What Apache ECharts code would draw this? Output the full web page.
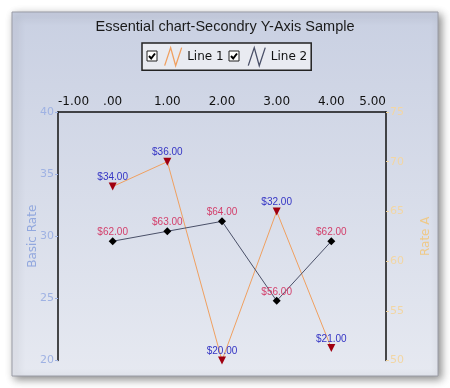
<!DOCTYPE html>
<html>
<head>
<meta charset="utf-8">
<script src="https://cdn.jsdelivr.net/npm/echarts@6/dist/echarts.min.js"></script>
<style>
html,body{margin:0;padding:0;background:#fff;}
#chart{width:450px;height:388px;}
</style>
</head>
<body>
<div id="chart"></div>
<script>
// ---- data ----
const titleText = 'Essential chart-Secondry Y-Axis Sample';
const xValues = [0, 1, 2, 3, 4];
const line1Values = [34, 36, 20, 32, 21];   // left axis "Basic Rate"
const line2Values = [62, 63, 64, 56, 62];   // right axis "Rate A"
const seriesNames = ['Line 1', 'Line 2'];
const xRange = [-1, 5];
const leftRange = [20, 40];
const rightRange = [50, 75];

const chart = echarts.init(document.getElementById('chart'), null, {renderer: 'canvas'});

function money(v) { return '$' + v.toFixed(2); }
function xFmt(v) { return v === 0 ? '.00' : v.toFixed(2); }

const zig = 'path://M0,18 L6,0 L11,18 L17,0';

function checkbox(x, y) {
  return [
    {type: 'rect', shape: {x: x, y: y, width: 10, height: 10},
     style: {fill: '#ffffff', stroke: '#222', lineWidth: 1}, z: 100},
    {type: 'polyline', shape: {points: [[x + 2, y + 5], [x + 4.2, y + 7.5], [x + 8, y + 2.5]]},
     style: {fill: null, stroke: '#000', lineWidth: 2}, z: 101}
  ];
}

const option = {
  backgroundColor: '#ffffff',
  animation: false,
  graphic: [
    {type: 'rect', shape: {x: 12, y: 12, width: 426, height: 364},
     style: {
       fill: new echarts.graphic.LinearGradient(0, 0, 0, 1, [
         {offset: 0, color: '#c9d0e2'},
         {offset: 1, color: '#e6e9f1'}
       ]),
       stroke: '#9a9ca6', lineWidth: 1,
       shadowBlur: 8, shadowColor: 'rgba(0,0,0,0.45)', shadowOffsetX: 3, shadowOffsetY: 3
     }, z: -10}
  ].concat(checkbox(147, 51), checkbox(229, 51)),
  title: {
    text: titleText, left: 'center', top: 19, padding: 0,
    textStyle: {fontFamily: 'Liberation Sans', fontSize: 14.5, fontWeight: 'normal', color: '#1a1a1a'}
  },
  legend: {
    left: 142, top: 43,
    padding: [4, 4, 4, 22],
    backgroundColor: '#e9ebf1', borderColor: '#222', borderWidth: 1.5,
    itemWidth: 18, itemHeight: 18, itemGap: 24,
    textStyle: {fontFamily: 'DejaVu Sans', fontSize: 12, color: '#111'},
    data: [
      {name: seriesNames[0], icon: zig,
       itemStyle: {color: 'rgba(0,0,0,0)', borderColor: '#f0a060', borderWidth: 1.3}},
      {name: seriesNames[1], icon: zig,
       itemStyle: {color: 'rgba(0,0,0,0)', borderColor: '#4a5068', borderWidth: 1.3}}
    ]
  },
  grid: {left: 58, right: 64, top: 112, bottom: 27.5},
  xAxis: {
    type: 'value', position: 'top', min: xRange[0], max: xRange[1], interval: 1,
    axisLine: {show: true, onZero: false, lineStyle: {color: '#111', width: 1.5}},
    axisTick: {show: false},
    splitLine: {show: false},
    axisLabel: {formatter: xFmt, margin: 4, color: '#111', fontFamily: 'DejaVu Sans', fontSize: 12,
      alignMinLabel: 'left', alignMaxLabel: 'right'}
  },
  yAxis: [
    {
      type: 'value', position: 'left', min: leftRange[0], max: leftRange[1], interval: 5,
      name: 'Basic Rate', nameLocation: 'middle', nameGap: 19, nameMoveOverlap: false,
      nameTextStyle: {color: '#92a8de', fontFamily: 'DejaVu Sans', fontSize: 12},
      axisLine: {show: true, onZero: false, lineStyle: {color: '#111', width: 1.5}},
      axisTick: {show: true, length: 3, lineStyle: {color: '#9fb2e3'}},
      splitLine: {show: false},
      axisLabel: {margin: 4, color: '#9fb2e3', fontFamily: 'DejaVu Sans', fontSize: 11}
    },
    {
      type: 'value', position: 'right', min: rightRange[0], max: rightRange[1], interval: 5,
      name: 'Rate A', nameLocation: 'middle', nameGap: 34, nameMoveOverlap: false,
      nameTextStyle: {color: '#efc988', fontFamily: 'DejaVu Sans', fontSize: 12},
      axisLine: {show: true, onZero: false, lineStyle: {color: '#111', width: 1.5}},
      axisTick: {show: true, length: 3, lineStyle: {color: '#f0d4a0'}},
      splitLine: {show: false},
      axisLabel: {margin: 4, color: '#f2d6a4', fontFamily: 'DejaVu Sans', fontSize: 11}
    }
  ],
  series: [
    {
      name: seriesNames[0], type: 'line', yAxisIndex: 0,
      data: xValues.map((x, i) => [x, line1Values[i]]),
      symbol: 'triangle', symbolRotate: 180, symbolSize: 8, showAllSymbol: true,
      clip: false,
      lineStyle: {color: '#f0a060', width: 1},
      itemStyle: {color: '#a00010'},
      label: {show: true, position: 'top', distance: 0,
        formatter: p => money(p.value[1]),
        color: '#3434c4', fontFamily: 'Liberation Sans', fontSize: 10}
    },
    {
      name: seriesNames[1], type: 'line', yAxisIndex: 1,
      data: xValues.map((x, i) => [x, line2Values[i]]),
      symbol: 'diamond', symbolSize: 8, showAllSymbol: true,
      lineStyle: {color: '#4a5068', width: 1},
      itemStyle: {color: '#000'},
      label: {show: true, position: 'top', distance: 0,
        formatter: p => money(p.value[1]),
        color: '#d3406c', fontFamily: 'Liberation Sans', fontSize: 10}
    }
  ]
};
chart.setOption(option);
</script>
</body>
</html>
